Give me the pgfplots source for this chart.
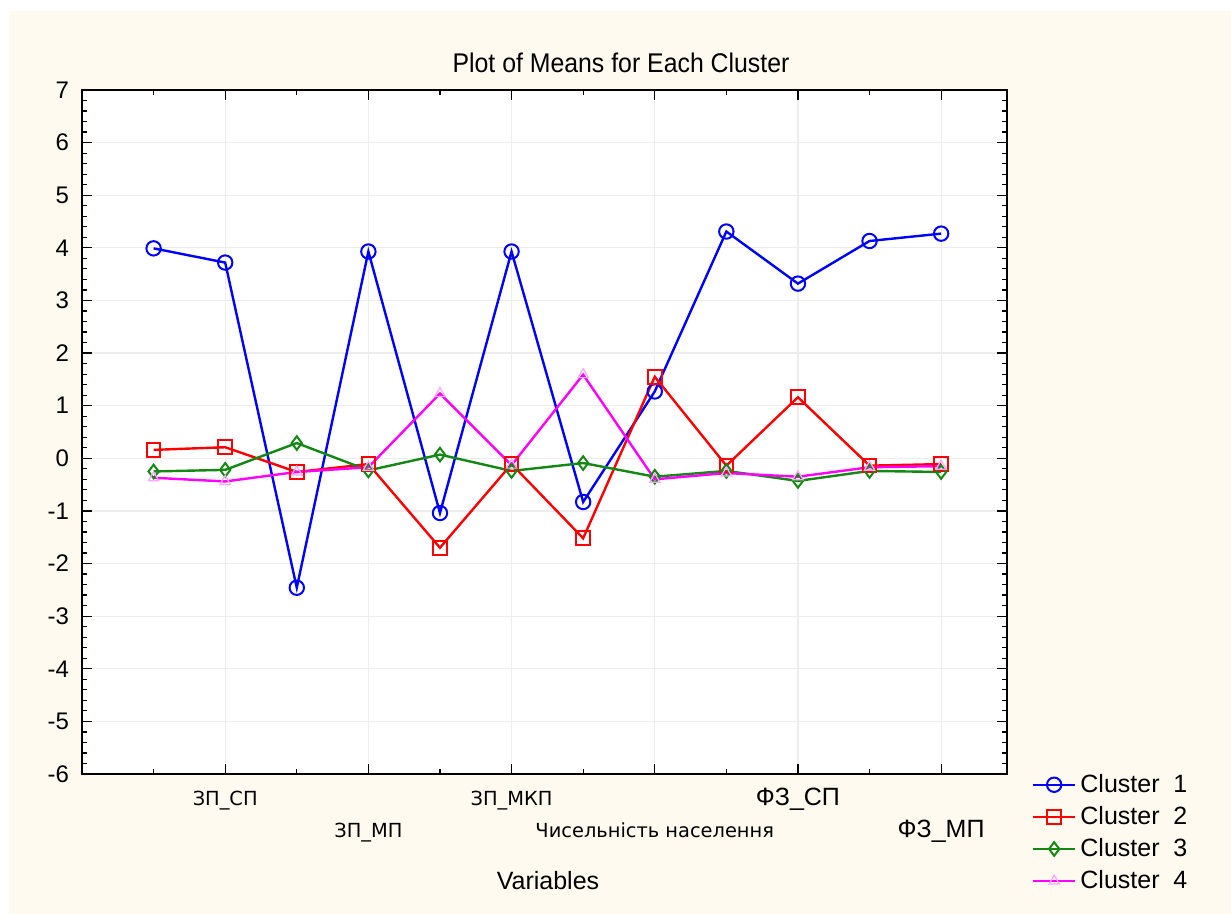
\documentclass[border=0pt]{standalone}
\usepackage{fontspec}
\setmainfont{Liberation Sans}
\newfontfamily\verd{DejaVu Sans}
\newfontfamily\narrowfont[FakeStretch=0.92]{Liberation Sans}
\usepackage{pgfplots}
\pgfplotsset{compat=1.18}
\definecolor{cream}{RGB}{254,250,239}
\definecolor{cgreen}{RGB}{20,135,20}
\definecolor{cblue}{RGB}{0,0,255}
\definecolor{cred}{RGB}{255,0,0}
\definecolor{cmag}{RGB}{255,0,255}
\begin{document}
\begin{tikzpicture}
\fill[white] (0,0) rectangle (615.5pt,457pt);
\fill[cream] (4.5pt,0) rectangle (615.5pt,451.5pt);
\begin{axis}[
  at={(41pt,70pt)}, anchor=south west,
  width=462.5pt, height=342pt, scale only axis,
  axis background/.style={fill=white},
  xmin=0, xmax=12.92, ymin=-6, ymax=7,
  ytick={-6,-5,...,7},
  minor y tick num=4,
  xtick={2,6,10},
  xticklabels={{\verd\fontsize{9.7}{11}\selectfont ЗП\_СП},{\verd\fontsize{9.7}{11}\selectfont ЗП\_МКП},{\fontsize{12.5}{14}\selectfont ФЗ\_СП}},
  extra x ticks={4,8,12},
  extra x tick labels={{\verd\fontsize{9.7}{11}\selectfont ЗП\_МП},{\verd\fontsize{9.7}{11}\selectfont Чисельність населення},{\fontsize{12.5}{14}\selectfont ФЗ\_МП}},
  extra x tick style={grid=major, xticklabel style={yshift=-16pt}},
  minor xtick={1,3,5,7,9,11},
  xticklabel style={anchor=base, yshift=-16pt},
  tick align=inside,
  major tick length=5pt, minor tick length=2.5pt,
  xtick pos=both, ytick pos=both,
  grid=major,
  major grid style={color=black!7, line width=0.6pt},
  minor grid style={draw=none},
  axis line style={line width=0.8pt},
  every tick/.style={black, line width=0.6pt},
  tick label style={font=\fontsize{12}{14}\selectfont},
  yticklabel style={xshift=-3pt},
  /pgf/number format/assume math mode=true,
  legend style={at={(1.02,0.012)}, anchor=north west, draw=none, fill=none,
    font=\fontsize{12.5}{14}\selectfont, row sep=1.5pt},
  legend cell align=left,
  legend image code/.code={\draw[mark repeat=2,mark phase=2,#1] plot coordinates {(0cm,0cm)(0.37cm,0cm)(0.74cm,0cm)};},
]
\addplot[cblue, line width=1.2pt, mark=o, mark size=3.6pt, mark options={line width=1pt}] coordinates {
(1,3.99) (2,3.72) (3,-2.46) (4,3.93) (5,-1.04) (6,3.93) (7,-0.83) (8,1.27) (9,4.31) (10,3.32) (11,4.13) (12,4.27)};
\addlegendentry{Cluster~~1}
\addplot[cred, line width=1.2pt, mark=square, mark size=3.4pt, mark options={line width=1pt}] coordinates {
(1,0.16) (2,0.21) (3,-0.26) (4,-0.11) (5,-1.70) (6,-0.11) (7,-1.52) (8,1.55) (9,-0.14) (10,1.16) (11,-0.14) (12,-0.11)};
\addlegendentry{Cluster~~2}
\addplot[cgreen, line width=1.2pt, mark=diamond, mark size=3.4pt, mark options={line width=1pt}] coordinates {
(1,-0.25) (2,-0.22) (3,0.29) (4,-0.23) (5,0.07) (6,-0.24) (7,-0.09) (8,-0.35) (9,-0.24) (10,-0.43) (11,-0.24) (12,-0.26)};
\addlegendentry{Cluster~~3}
\addplot[cmag, line width=1.2pt, mark=triangle, mark size=3pt, mark options={cmag!35, line width=0.6pt}] coordinates {
(1,-0.37) (2,-0.44) (3,-0.26) (4,-0.17) (5,1.23) (6,-0.13) (7,1.59) (8,-0.40) (9,-0.28) (10,-0.35) (11,-0.17) (12,-0.15)};
\addlegendentry{Cluster~~4}
\end{axis}
\node[font=\narrowfont\fontsize{13.5}{15}\selectfont] at (310.5pt,425.5pt) {Plot of Means for Each Cluster};
\node[font=\fontsize{12.5}{14}\selectfont] at (274pt,16.5pt) {Variables};
\end{tikzpicture}
\end{document}
